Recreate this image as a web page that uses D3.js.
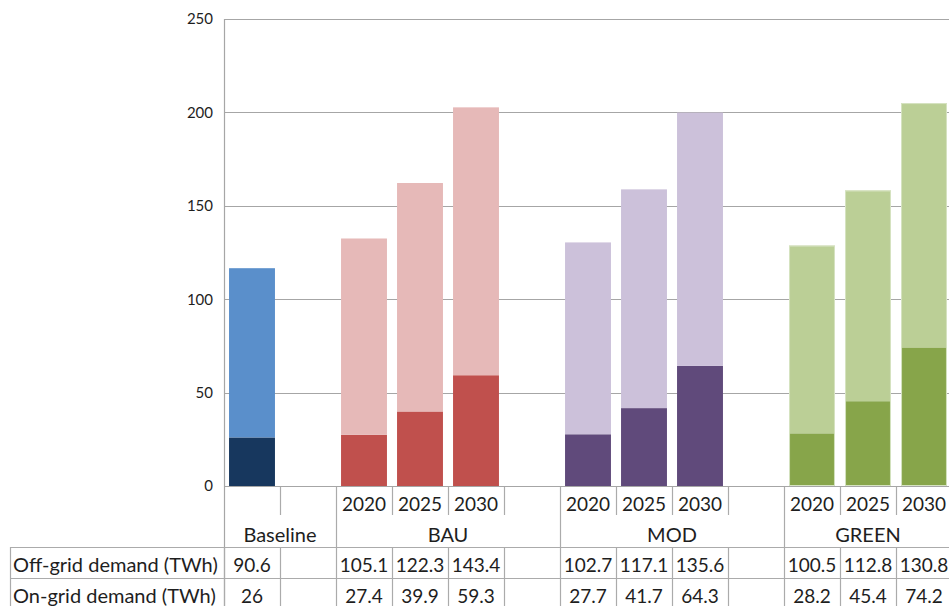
<!DOCTYPE html>
<html>
<head>
<meta charset="utf-8">
<script src="https://cdn.jsdelivr.net/npm/d3@7"></script>
<style>
  html, body { margin: 0; padding: 0; background: #fff; }
  svg { display: block; }
  text { font-family: Lato, "Open Sans", sans-serif; fill: #1e1e1e; }
</style>
</head>
<body>
<svg id="chart" width="949" height="606"></svg>
<script>
// Electricity demand by scenario (TWh)
const groups = ["Baseline", "BAU", "MOD", "GREEN"];
const groupYears = [[""], ["2020", "2025", "2030"], ["2020", "2025", "2030"], ["2020", "2025", "2030"]];
const groupHasGap = [true, true, true, false];
const offGrid = [[90.6], [105.1, 122.3, 143.4], [102.7, 117.1, 135.6], [100.5, 112.8, 130.8]];
const onGrid = [[26], [27.4, 39.9, 59.3], [27.7, 41.7, 64.3], [28.2, 45.4, 74.2]];
const yTicks = [0, 50, 100, 150, 200, 250];
const rowLabels = ["Off-grid demand (TWh)", "On-grid demand (TWh)"];

const onColors = ["#17375e", "#c0504d", "#604a7b", "#87a54a"];
const offColors = ["#5a8fcb", "#e6b9b8", "#ccc1da", "#bbcf96"];

// Flatten into one column per slot (bar or spacer)
const cols = [];
groups.forEach((g, gi) => {
  groupYears[gi].forEach((yr, i) => {
    cols.push({ group: gi, year: yr, off: offGrid[gi][i], on: onGrid[gi][i], bar: true });
  });
  if (groupHasGap[gi]) cols.push({ group: gi, year: "", off: null, on: null, bar: false });
});
cols.forEach((c, i) => c.idx = i);

const svg = d3.select("#chart");
const plotLeft = 224, plotRight = 952, plotTop = 19, plotBottom = 486;

const x = d3.scaleBand()
  .domain(cols.map(c => c.idx))
  .range([plotLeft, plotRight])
  .paddingInner(0.18)
  .paddingOuter(0.09);

const y = d3.scaleLinear().domain([0, 250]).range([plotBottom, plotTop]);

const gridColor = "#a6a6a6";

// Horizontal gridlines
svg.append("g").selectAll("line").data(yTicks).join("line")
  .attr("x1", plotLeft).attr("x2", plotRight)
  .attr("y1", d => Math.round(y(d)) + 0.5).attr("y2", d => Math.round(y(d)) + 0.5)
  .attr("stroke", gridColor).attr("stroke-width", 1.2);

// Y axis labels
const yAxis = d3.axisLeft(y).tickValues(yTicks).tickSize(0).tickPadding(11);
const ya = svg.append("g").attr("transform", `translate(${plotLeft},0)`).call(yAxis);
ya.select(".domain").remove();
ya.selectAll("text")
  .style("font-family", "Lato, sans-serif")
  .style("font-size", "15px")
  .attr("fill", "#222");

// Stacked bars: on-grid at the bottom, off-grid on top
const bars = cols.filter(c => c.bar);
const barG = svg.append("g");
barG.selectAll("rect.on").data(bars).join("rect")
  .attr("class", "on")
  .attr("x", d => x(d.idx)).attr("width", x.bandwidth())
  .attr("y", d => y(d.on)).attr("height", d => y(0) - y(d.on))
  .attr("fill", d => onColors[d.group]);
barG.selectAll("rect.off").data(bars).join("rect")
  .attr("class", "off")
  .attr("x", d => x(d.idx)).attr("width", x.bandwidth())
  .attr("y", d => y(d.on + d.off)).attr("height", d => y(d.on) - y(d.on + d.off))
  .attr("fill", d => offColors[d.group]);
// thin light edge on the green bars
barG.selectAll("rect.edge").data(bars.filter(d => d.group === 3)).join("rect")
  .attr("class", "edge")
  .attr("x", d => x(d.idx) + 0.5).attr("width", x.bandwidth() - 1)
  .attr("y", d => y(d.on + d.off) + 0.5).attr("height", d => y(0) - y(d.on + d.off) - 1)
  .attr("fill", "none").attr("stroke", "#d6e3c2").attr("stroke-width", 1);

// Y axis line, running down through the table
svg.append("line").attr("x1", plotLeft + 0.5).attr("x2", plotLeft + 0.5).attr("y1", plotTop).attr("y2", 606)
  .attr("stroke", gridColor).attr("stroke-width", 1.2);

// Table below the plot
const tbl = svg.append("g");
const lineCol = "#ababab";
const yearTop = plotBottom + 1, yearBot = 515, groupBot = 547, rowH = 31;
const step = x.step();
const colLeft = i => plotLeft + i * step;
const numSize = "19px", labelSize = "20px";

// Year row separators
cols.forEach((c, i) => {
  if (i === 0) return;
  tbl.append("line").attr("x1", colLeft(i) + 0.5).attr("x2", colLeft(i) + 0.5)
    .attr("y1", yearTop).attr("y2", yearBot).attr("stroke", lineCol).attr("stroke-width", 1.2);
});
tbl.selectAll("text.year").data(bars).join("text")
  .attr("class", "year")
  .attr("x", d => x(d.idx) + x.bandwidth() / 2)
  .attr("y", 511)
  .attr("text-anchor", "middle")
  .style("font-size", numSize)
  .text(d => d.year);

// Group row separators and labels
const groupSpans = groups.map((g, gi) => {
  const cs = cols.filter(c => c.group === gi);
  return { name: g, start: cs[0].idx, end: cs[cs.length - 1].idx + 1 };
});
groupSpans.forEach(s => {
  if (s.start > 0) {
    tbl.append("line").attr("x1", colLeft(s.start) + 0.5).attr("x2", colLeft(s.start) + 0.5)
      .attr("y1", yearBot).attr("y2", groupBot).attr("stroke", lineCol).attr("stroke-width", 1.2);
  }
  tbl.append("text")
    .attr("x", (colLeft(s.start) + colLeft(s.end)) / 2)
    .attr("y", 542)
    .attr("text-anchor", "middle")
    .style("font-size", labelSize)
    .text(s.name);
});

// Data rows
const tableLeft = 10;
const rows = [offGrid, onGrid];
rows.forEach((vals, r) => {
  const y0 = groupBot + r * rowH;
  tbl.append("line").attr("x1", tableLeft).attr("x2", plotRight)
    .attr("y1", y0 + 0.5).attr("y2", y0 + 0.5).attr("stroke", lineCol).attr("stroke-width", 1.2);
  tbl.append("text")
    .attr("x", tableLeft + 3).attr("y", y0 + 25)
    .style("font-size", labelSize)
    .text(rowLabels[r]);
  cols.forEach((c, i) => {
    tbl.append("line").attr("x1", colLeft(i) + 0.5).attr("x2", colLeft(i) + 0.5)
      .attr("y1", y0).attr("y2", y0 + rowH).attr("stroke", lineCol).attr("stroke-width", 1.2);
    if (c.bar) {
      const gi = c.group;
      const k = groupYears[gi].indexOf(c.year);
      tbl.append("text")
        .attr("x", x(c.idx) + x.bandwidth() / 2).attr("y", y0 + 25)
        .attr("text-anchor", "middle")
        .style("font-size", numSize)
        .text(vals[gi][k]);
    }
  });
});
tbl.append("line").attr("x1", tableLeft + 0.5).attr("x2", tableLeft + 0.5)
  .attr("y1", groupBot).attr("y2", groupBot + 2 * rowH).attr("stroke", lineCol).attr("stroke-width", 1.2);
</script>
</body>
</html>
